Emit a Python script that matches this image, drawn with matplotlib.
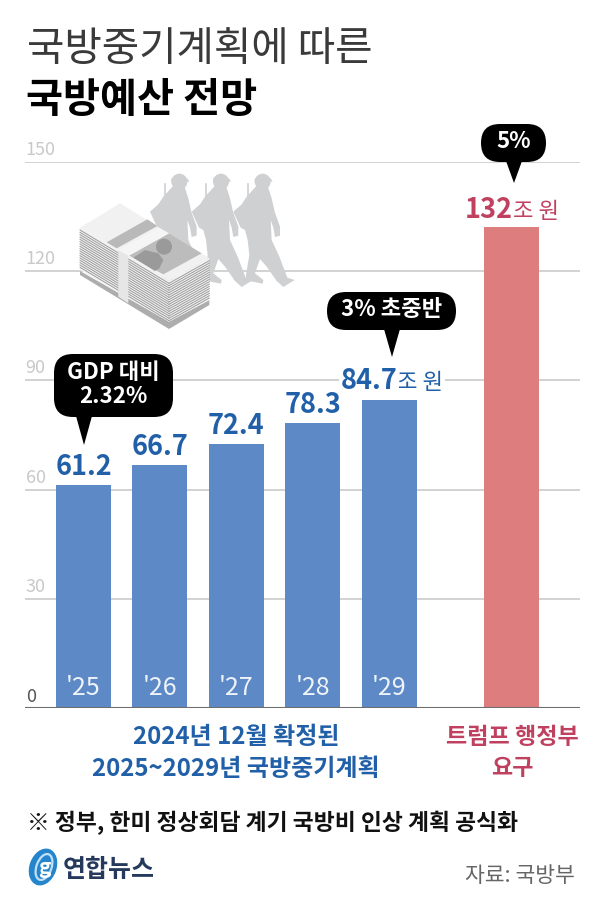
import matplotlib
matplotlib.use("Agg")
import matplotlib.pyplot as plt
from matplotlib.patches import FancyBboxPatch, Polygon, Ellipse, Circle

plt.rcParams['font.family'] = ['Noto Sans CJK KR', 'DejaVu Sans']

# data
years = ["'25", "'26", "'27", "'28", "'29"]
plan_values = [61.2, 66.7, 72.4, 78.3, 84.7]
plan_pos = [0, 1, 2, 3, 4]
trump_value = 132
trump_pos = 5.6
y_ticks = [0, 30, 60, 90, 120, 150]

BLUE = '#5d89c6'
BLUE_TXT = '#2160a8'
RED = '#de7d7e'
RED_TXT = '#c0405f'
SOLDIER = '#cfd0d2'

W, H = 600, 898
fig = plt.figure(figsize=(W / 100, H / 100), dpi=100, facecolor='white')

# chart axes: plot area runs x 25-580 px, y 161.5-708.3 px
ax = fig.add_axes([25 / W, 1 - 708.3 / H, 555 / W, 546.8 / H])
ax.set_xlim(-0.766, 6.5)
ax.set_ylim(0, 150)
for s in ax.spines.values():
    s.set_visible(False)
ax.set_xticks([])
ax.set_yticks([])
for t in y_ticks[1:]:
    ax.axhline(t, color='#cfcfcf', lw=1.3, zorder=1)
ax.axhline(0, color='#6e6e6e', lw=1.5, zorder=5)

ax.bar(plan_pos, plan_values, width=0.72, color=BLUE, zorder=3)
ax.bar([trump_pos], [trump_value], width=0.72, color=RED, zorder=3)

for t in y_ticks:
    ax.annotate(str(t), (0, t), xycoords=('axes fraction', 'data'), xytext=(0.5, 2),
                textcoords='offset points', ha='left', va='bottom', fontsize=13,
                color='#555555' if t == 0 else '#c9c9c9', zorder=2)

for p, v in zip(plan_pos[:-1], plan_values[:-1]):
    ax.annotate(f'{v}', (p, v), xytext=(0, 3), textcoords='offset points',
                ha='center', va='bottom', fontsize=19.5, fontweight='bold',
                color=BLUE_TXT, zorder=6)
for p, yr in zip(plan_pos, years):
    ax.annotate(yr, (p, 0), xytext=(0, 5), textcoords='offset points', ha='center',
                va='bottom', fontsize=18, color='white', alpha=0.9, zorder=6)

# last blue label sits left of its bar, with the unit beside it on a white patch
ax.annotate('조 원', (plan_pos[-1], plan_values[-1]), xytext=(6, 4), textcoords='offset points',
            ha='left', va='bottom', fontsize=16, color=BLUE_TXT, zorder=6,
            bbox=dict(facecolor='white', edgecolor='none', pad=1))
ax.annotate(f'{plan_values[-1]}', (plan_pos[-1], plan_values[-1]), xytext=(6, 3), textcoords='offset points',
            ha='right', va='bottom', fontsize=19.5, fontweight='bold', color=BLUE_TXT, zorder=6,
            bbox=dict(facecolor='white', edgecolor='none', pad=1))
ax.annotate(f'{trump_value}', (trump_pos, trump_value), xytext=(1, 2), textcoords='offset points',
            ha='right', va='bottom', fontsize=19.5, fontweight='bold', color=RED_TXT, zorder=6)
ax.annotate('조 원', (trump_pos, trump_value), xytext=(1, 3), textcoords='offset points',
            ha='left', va='bottom', fontsize=16, color=RED_TXT, zorder=6)

# overlay in pixel coordinates for decoration and free text
ov = fig.add_axes([0, 0, 1, 1], facecolor='none')
ov.set_xlim(0, W)
ov.set_ylim(H, 0)
ov.axis('off')


def bubble(x0, y0, x1, y1, tip_x, tip_y, lines, fs=16):
    r = min(19, (y1 - y0) / 2)
    ov.add_patch(FancyBboxPatch((x0 + r, y0 + r), x1 - x0 - 2 * r, y1 - y0 - 2 * r,
                                boxstyle=f'round,pad={r},rounding_size={r}', fc='black', ec='none', zorder=8))
    ov.add_patch(Polygon([(tip_x - 8, y1 - 1), (tip_x + 8, y1 - 1), (tip_x, tip_y)], fc='black', ec='none', zorder=8))
    ov.text((x0 + x1) / 2, (y0 + y1) / 2 - 1, lines, ha='center', va='center', color='white',
            fontsize=fs, fontweight='bold', linespacing=1.1, zorder=9)


bubble(54, 354, 173, 417, 84, 445, 'GDP 대비\n2.32%')
bubble(327, 292, 456, 330, 392, 357, '3% 초중반')
bubble(481, 124, 546, 162, 514, 183, '5%')


def z(pts, dx=0):
    return [(70 + (a + dx) / 3, 165 + b / 3) for a, b in pts]


soldier = [(562, 60), (592, 60), (605, 100), (614, 140), (630, 185), (630, 212), (615, 216), (610, 188),
           (602, 165), (605, 225), (628, 275), (652, 338), (674, 345), (640, 366), (620, 348), (590, 305),
           (570, 282), (555, 325), (580, 345), (578, 356), (528, 346), (528, 330), (538, 270), (533, 225),
           (525, 195), (512, 188), (490, 140), (515, 118), (530, 95)]
for dx in (0, -125, -250):
    ov.add_patch(Polygon(z(soldier, dx), fc=SOLDIER, ec='none', zorder=3))
    ov.add_patch(Circle(z([(578, 50)], dx)[0], 8, fc=SOLDIER, ec='none', zorder=3))
    ov.add_patch(Polygon(z([(554, 40), (602, 40), (608, 50), (554, 50)], dx), fc=SOLDIER, ec='none', zorder=3))
    ov.plot(*zip(*z([(534, 58), (534, 100)], dx)), color=SOLDIER, lw=1.2, zorder=3)

# money stack
ov.add_patch(Polygon(z([(30, 330), (297, 492), (418, 420), (418, 405), (297, 470), (30, 318)]), fc='#adadad', ec='none', zorder=4))
ov.add_patch(Polygon(z([(30, 188), (297, 348), (297, 470), (30, 315)]), fc='#f2f2f2', ec='none', zorder=4))
ov.add_patch(Polygon(z([(297, 348), (418, 280), (418, 405), (297, 470)]), fc='#f2f2f2', ec='none', zorder=4))
for k in range(1, 18):
    d = k * 7
    ov.plot(*zip(*z([(30, 188 + d), (297, 348 + d)])), color='#9c9c9c', lw=0.7, zorder=4.1)
    ov.plot(*zip(*z([(297, 348 + d), (418, 280 + d)])), color='#9c9c9c', lw=0.7, zorder=4.1)
ov.add_patch(Polygon(z([(30, 188), (150, 115), (418, 280), (297, 348)]), fc='#f1f1f1', ec='none', zorder=4.2))
ov.add_patch(Polygon(z([(110, 232), (232, 163), (262, 183), (140, 250)]), fc='#b9b9b9', ec='none', zorder=4.3))
ov.add_patch(Polygon(z([(178, 272), (297, 205), (395, 265), (280, 328)]), fc='#bcbcbc', ec='none', zorder=4.3))
ov.add_patch(Circle(z([(282, 245)])[0], 8, fc='#9a9a9a', ec='none', zorder=4.4))
ov.add_patch(Polygon(z([(190, 278), (225, 255), (265, 265), (280, 285), (268, 310), (255, 318)]), fc='#9a9a9a', ec='none', zorder=4.4))
ov.add_patch(Polygon(z([(145, 255), (175, 272), (175, 415), (145, 395)]), fc='#e6e6e6', ec='none', zorder=4.5))
ov.add_patch(Polygon(z([(145, 255), (175, 272), (297, 205), (265, 188)]), fc='#f5f5f5', ec='none', zorder=4.5))

ov.text(27, 50, '국방중기계획에 따른', fontsize=29.3, fontweight='light', color='#3a3a3a', va='center', ha='left')
ov.text(26, 101, '국방예산 전망', fontsize=29, fontweight='bold', color='black', va='center', ha='left')

ov.text(236, 753, '2024년 12월 확정된\n2025~2029년 국방중기계획', fontsize=17.3, fontweight='bold',
        color=BLUE_TXT, ha='center', va='center', linespacing=1.42)
ov.text(512, 753, '트럼프 행정부\n요구', fontsize=16.6, fontweight='bold', color=RED_TXT,
        ha='center', va='center', linespacing=1.48)
ov.text(27, 823, '※ 정부, 한미 정상회담 계기 국방비 인상 계획 공식화', fontsize=16.4, fontweight='bold',
        color='#111111', ha='left', va='center')
ov.text(575, 876, '자료: 국방부', fontsize=15.5, color='#666666', ha='right', va='center')

# logo
ov.text(63, 870, '연합뉴스', fontsize=18, fontweight='black', color='#24395c', ha='left', va='center')
ov.add_patch(Ellipse((43, 867), 27, 38, angle=20, fc='#2585cc', ec='none', zorder=4))
ov.add_patch(Ellipse((44, 867), 15, 27, angle=20, fc='none', ec='#bfe0f5', lw=1.6, zorder=5))
ov.text(44, 867, 'g', fontsize=15, style='italic', fontweight='bold', color='white', ha='center', va='center', zorder=6)

fig.savefig('out.png', dpi=100)
